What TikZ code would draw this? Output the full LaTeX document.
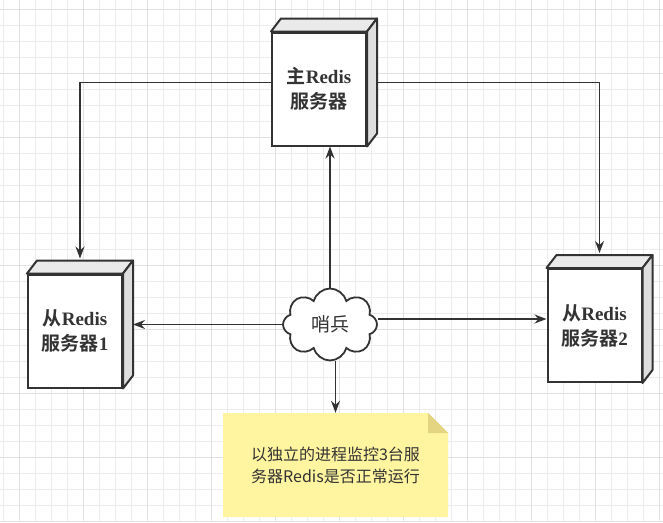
\documentclass[tikz,border=0pt]{standalone}
\usepackage{fontspec}
\setmainfont{Liberation Serif}
\newfontfamily\zhfont{Noto Sans CJK SC}[BoldFont={Noto Sans CJK SC Bold}]
\usetikzlibrary{arrows.meta,shapes.symbols}
\definecolor{linegray}{RGB}{51,51,51}
\definecolor{topgray}{RGB}{234,234,234}
\definecolor{sidegray}{RGB}{222,222,222}
\definecolor{notefill}{RGB}{255,244,160}
\definecolor{notefold}{RGB}{226,212,128}
\definecolor{gridminor}{RGB}{236,236,236}
\definecolor{gridmajor}{RGB}{224,224,224}
\newcommand{\zh}[1]{{\zhfont #1}}
\newcommand{\cubefaces}[1]{%
  \filldraw[cubeside,fill=topgray] (#1.north west) -- ([shift={(10,-13)}]#1.north west) -- ([shift={(10,-13)}]#1.north east) -- (#1.north east) -- cycle;
  \filldraw[cubeside,fill=sidegray] (#1.north east) -- ([shift={(10,-13)}]#1.north east) -- ([shift={(10,-13)}]#1.south east) -- (#1.south east) -- cycle;}

\begin{document}
\begin{tikzpicture}[x=1pt,y=-1pt,
  server/.style={draw=linegray,line width=2pt,fill=white,minimum width=94pt,minimum height=113pt,inner sep=0pt,align=center,text=linegray,font=\fontsize{19}{25}\selectfont\bfseries},
  cubeside/.style={draw=linegray,line width=2pt,line join=round},
  sentinel/.style={cloud,cloud puffs=8,aspect=1.35,draw=linegray,line width=1.8pt,fill=white,minimum width=94pt,minimum height=72pt,inner sep=0pt,text=linegray,font=\zhfont\fontsize{19}{24}\selectfont},
  notebox/.style={minimum width=225pt,minimum height=104pt,inner sep=0pt,align=center,text=linegray,font=\zhfont\fontsize{16}{22}\selectfont,
    path picture={
      \fill[notefill] (path picture bounding box.south west) -- (path picture bounding box.north west) -- ([xshift=-20pt]path picture bounding box.north east) -- ([yshift=-20pt]path picture bounding box.north east) -- (path picture bounding box.south east) -- cycle;
      \fill[notefold] ([xshift=-20pt]path picture bounding box.north east) -- ([yshift=-20pt]path picture bounding box.north east) -- ([shift={(-20pt,-20pt)}]path picture bounding box.north east) -- cycle;}},
  link/.style={draw=linegray,line width=1.6pt,-{Stealth[length=12pt,width=9pt]}}]
\useasboundingbox[fill=white] (0,0) rectangle (663,522);
\foreach \gx in {3.5,19.5,...,663} \draw[gridminor,line width=0.9pt] (\gx,0) -- (\gx,522);
\foreach \gy in {9.5,25.5,...,522} \draw[gridminor,line width=0.9pt] (0,\gy) -- (663,\gy);
\foreach \gx in {19.5,83.5,...,663} \draw[gridmajor,line width=0.9pt] (\gx,0) -- (\gx,522);
\foreach \gy in {9.5,73.5,...,522} \draw[gridmajor,line width=0.9pt] (0,\gy) -- (663,\gy);

\node[server] (master) at (319,89) {\zh{主}Redis\\\zh{服务器}};
\node[server] (slave1) at (75,331) {\zh{从}Redis\\\zh{服务器}1};
\node[server] (slave2) at (594.5,325.5) {\zh{从}Redis\\\zh{服务器}2};
\cubefaces{master}
\cubefaces{slave1}
\cubefaces{slave2}
\node[sentinel] (guard) at (330,324.5) {哨兵};
\node[notebox] (memo) at (335.5,465) {以独立的进程监控3台服\\务器Redis是否正常运行};

\draw[link] ([yshift=6.5pt]master.west) -| ([shift={(5,-15)}]slave1.north);
\draw[link] ([shift={(10,-6.5)}]master.east) -| ([shift={(5,-15)}]slave2.north);
\draw[link] (guard.north) -- (guard.north |- master.south);
\draw[link] (guard.west) -- ([shift={(10,-6.5)}]slave1.east);
\draw[link] ([yshift=5.5pt]guard.east) -- ([yshift=6.5pt]slave2.west);
\draw[link] (guard.south -| memo.north) -- (memo.north);
\end{tikzpicture}
\end{document}
